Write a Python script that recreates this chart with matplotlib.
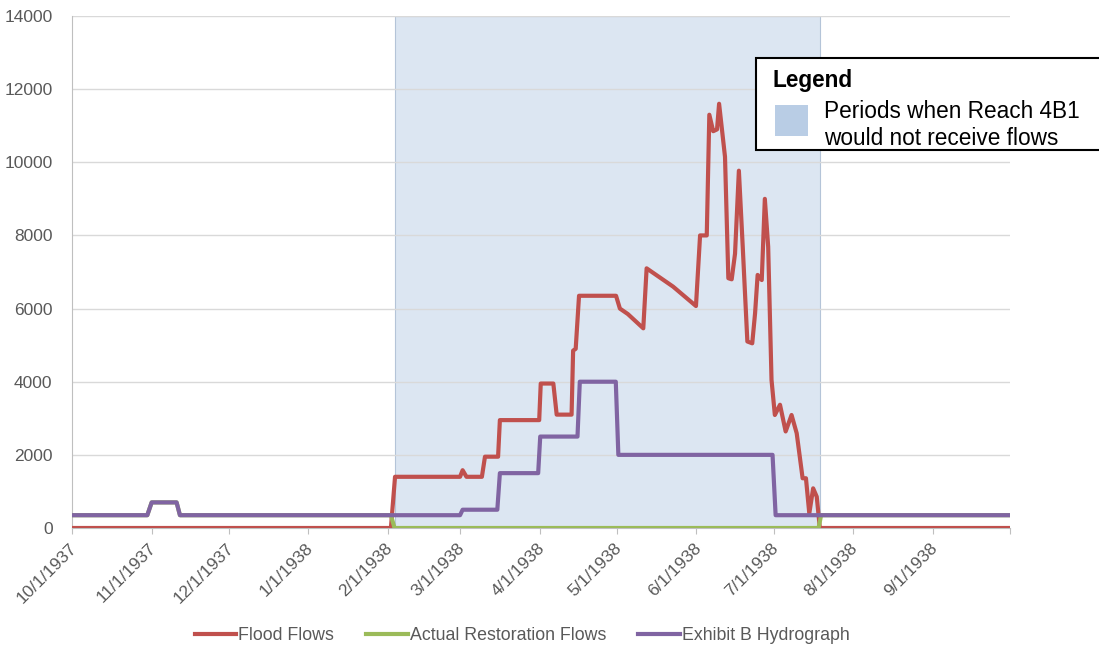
import matplotlib.pyplot as plt
from matplotlib.lines import Line2D
from matplotlib.patches import Rectangle
from matplotlib.transforms import ScaledTranslation
import pandas as pd

plt.rcParams['font.family'] = ['Liberation Sans', 'DejaVu Sans']

# day offsets from 10/1/1937, values in cfs
flood_day = [0, 124.1, 125.7, 151, 152, 153.5, 159.5, 160.7, 165.8, 166.5, 181.8, 182.4,
             187.3, 188.6, 194.4, 195, 196, 197.3, 211.7, 213.2, 216.3, 222.3, 223.6,
             233.9, 242.8, 244.4, 247, 248, 249.5, 251, 251.8, 254.1, 255.4, 256.7,
             258, 259.5, 261, 262.8, 264.7, 265.8, 266.8, 268.4, 269.6, 270.9, 272.2,
             273.5, 275.5, 277.7, 280, 282, 284.3, 285.6, 286.9, 288.4, 289.8, 291, 365]
flood_val = [0, 0, 1400, 1400, 1580, 1400, 1400, 1950, 1950, 2950, 2950, 3950,
             3950, 3100, 3100, 4850, 4900, 6350, 6350, 6000, 5850, 5460, 7100,
             6600, 6070, 8000, 8000, 11300, 10850, 10900, 11600, 10150, 6830, 6800,
             7500, 9770, 7690, 5100, 5050, 5870, 6920, 6780, 9000, 7690, 4050,
             3090, 3370, 2640, 3090, 2590, 1360, 1360, 400, 1085, 855, 0, 0]

restor_day = [0, 29.3, 31, 40.7, 42, 124.1, 125.5, 290.5, 291.5, 365]
restor_val = [350, 350, 700, 700, 350, 350, 0, 0, 350, 350]

exhibit_day = [0, 29.3, 31, 40.7, 42, 151, 152, 165.5, 166.5, 181.4, 182.2,
               196.7, 197.6, 211.6, 212.6, 272.6, 273.8, 365]
exhibit_val = [350, 350, 700, 700, 350, 350, 500, 500, 1500, 1500, 2500,
               2500, 4000, 4000, 2000, 2000, 350, 350]

no_flow_period = (125.7, 291)

months = pd.date_range('1937-10-01', '1938-10-01', freq='MS')
tick_days = [(m - months[0]).days for m in months]
tick_labels = [f'{m.month}/{m.day}/{m.year}' for m in months[:-1]]

red, green, purple = '#c0504d', '#9bbb59', '#8064a2'

fig = plt.figure(figsize=(10.99, 6.49), dpi=100)
ax = fig.add_axes([72 / 1099, 1 - 528 / 649, (1010 - 72) / 1099, (528 - 16) / 649])

ax.axvspan(*no_flow_period, facecolor='#dce6f2', edgecolor='#b4c4d8', lw=0.8, zorder=0.2)
ax.plot(flood_day, flood_val, color=red, lw=3, solid_joinstyle='round', zorder=3)
ax.plot(restor_day, restor_val, color=green, lw=3, solid_joinstyle='round', zorder=4)
ax.plot(exhibit_day, exhibit_val, color=purple, lw=3, solid_joinstyle='round', zorder=5)

ax.set_xlim(0, 365)
ax.set_ylim(0, 14000)
ax.set_yticks(range(0, 14001, 2000))
ax.set_yticklabels([str(v) for v in range(0, 14001, 2000)], fontsize=12.5, color='#595959')
ax.tick_params(axis='y', length=0, pad=14)
ax.set_xticks(tick_days)
ax.set_xticklabels(tick_labels + [''], rotation=45, ha='right', rotation_mode='anchor',
                   fontsize=12.5, color='#595959')
ax.tick_params(axis='x', length=4, color='#bfbfbf', pad=6)
for lab in ax.get_xticklabels():
    lab.set_transform(lab.get_transform() + ScaledTranslation(-0.03, 0.01, fig.dpi_scale_trans))
ax.grid(axis='y', color='#d9d9d9', lw=1)
ax.set_axisbelow(True)
for s in ['top', 'right']:
    ax.spines[s].set_visible(False)
ax.spines['left'].set_color('#bfbfbf')
ax.spines['bottom'].set_color('#bfbfbf')

handles = [Line2D([], [], color=c, lw=3) for c in (red, green, purple)]
fig.legend(handles, ['Flood Flows', 'Actual Restoration Flows', 'Exhibit B Hydrograph'],
           loc='center', bbox_to_anchor=(522 / 1099, 1 - 636 / 649), ncol=3, frameon=False,
           fontsize=12.8, handlelength=2.35, handletextpad=0.1, columnspacing=1.8,
           labelcolor='#595959')

# box legend on the right
fig.patches.append(Rectangle((756 / 1099, 1 - 150 / 649), 360 / 1099, 92 / 649,
                             transform=fig.transFigure, facecolor='white',
                             edgecolor='black', lw=1.5, zorder=10))
fig.patches.append(Rectangle((775 / 1099, 1 - 136 / 649), 33 / 1099, 31 / 649,
                             transform=fig.transFigure, facecolor='#b9cde5',
                             edgecolor='none', zorder=11))
fig.text(772 / 1099, 1 - 81 / 649, 'Legend', fontsize=16.3, fontweight='bold',
         va='center', ha='left', zorder=12)
fig.text(824 / 1099, 1 - 125 / 649, 'Periods when Reach 4B1\nwould not receive flows',
         fontsize=16.3, va='center', ha='left', linespacing=1.18, zorder=12)

fig.savefig('out.png', dpi=100)
